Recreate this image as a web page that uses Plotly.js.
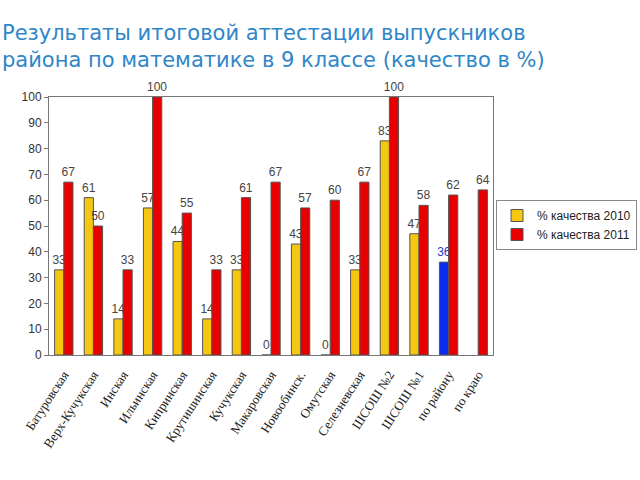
<!DOCTYPE html>
<html>
<head>
<meta charset="utf-8">
<script src="https://cdn.plot.ly/plotly-3.0.1.min.js"></script>
<style>html,body{margin:0;padding:0;background:#fff;}#chart{width:640px;height:480px;}</style>
</head>
<body>
<div id="chart"></div>
<script>
const categories = ["Батуровская","Верх-Кучукская","Инская","Ильинская","Кипринская","Крутишинская","Кучукская","Макаровская","Новообинск.","Омутская","Селезневская","ШСОШ №2","ШСОШ №1","по району","по краю"];
const quality2010 = [33, 61, 14, 57, 44, 14, 33, 0, 43, 0, 33, 83, 47, 36, null];
const quality2011 = [67, 50, 33, 100, 55, 33, 61, 67, 57, 60, 67, 100, 58, 62, 64];
const seriesNames = ["% качества 2010", "% качества 2011"];
const titleText = "Результаты итоговой аттестации выпускников<br>района по математике в 9 классе (качество в %)";

const yellow = "#f5c710", red = "#e80000", blue = "#0a2cf0";
const colors2010 = categories.map(c => c === "по району" ? blue : yellow);
const textColors2010 = categories.map(c => c === "по району" ? "#1a3ccc" : "#444");

const ML = 49, MR = 147, MT = 97, MB = 125;
const plotW = 640 - ML - MR, plotH = 480 - MT - MB;

const traces = [
  {
    type: "bar", name: seriesNames[0], x: categories, y: quality2010,
    marker: {color: colors2010, line: {color: "#555", width: 1}},
    text: quality2010.map(v => v === null ? "" : String(v)),
    textposition: "outside", cliponaxis: false, constraintext: "none",
    textfont: {family: "Liberation Sans, Arial", size: 12, color: textColors2010}
  },
  {
    type: "bar", name: seriesNames[1], x: categories, y: quality2011,
    marker: {color: red, line: {color: "#555", width: 1}},
    text: quality2011.map(v => String(v)),
    textposition: "outside", cliponaxis: false, constraintext: "none",
    textfont: {family: "Liberation Sans, Arial", size: 12, color: "#444"}
  }
];

const layout = {
  width: 640, height: 480,
  margin: {l: ML, r: MR, t: MT, b: MB},
  paper_bgcolor: "#fff", plot_bgcolor: "#fff",
  barmode: "group", bargap: 0.38, bargroupgap: 0,
  annotations: [{
    text: titleText, showarrow: false, align: "left",
    xref: "paper", x: -ML / plotW, xanchor: "left",
    yref: "paper", y: 1 + (MT - 19) / plotH, yanchor: "top",
    font: {family: "DejaVu Sans", size: 21, color: "#2f86c8"}
  }],
  xaxis: {
    type: "category", tickangle: -57, showline: true, linecolor: "#777", mirror: true,
    ticks: "", ticklabelstandoff: 6,
    tickfont: {family: "Liberation Serif, Times New Roman", size: 13, color: "#222"},
    showgrid: false
  },
  yaxis: {
    range: [0, 100], dtick: 10, showline: true, linecolor: "#777", mirror: true,
    ticks: "outside", ticklen: 4, tickcolor: "#777", showgrid: false, zeroline: false,
    tickfont: {family: "Liberation Sans, Arial", size: 12, color: "#333"}
  },
  legend: {
    xref: "container", x: 496 / 640, xanchor: "left",
    yref: "container", y: 1 - 200 / 480, yanchor: "top",
    bordercolor: "#888", borderwidth: 1,
    font: {family: "Liberation Sans, Arial", size: 12, color: "#222"},
    itemwidth: 30, tracegroupgap: 0
  },
  showlegend: true
};

Plotly.newPlot("chart", traces, layout, {displayModeBar: false, staticPlot: true});
</script>
</body>
</html>
